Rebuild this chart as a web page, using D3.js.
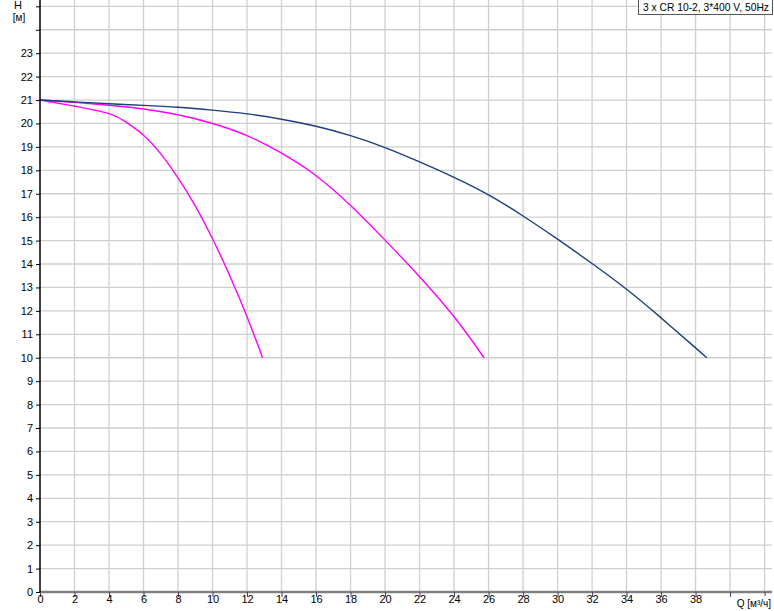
<!DOCTYPE html>
<html><head><meta charset="utf-8">
<script src="https://cdn.jsdelivr.net/npm/d3@7"></script>
<style>
body{margin:0;background:#fff;}
svg{display:block;font-family:"Liberation Sans",Arial,sans-serif;}
</style></head>
<body>
<svg id="c" width="774" height="611"></svg>
<script>
// ---- data ----
const legendText = "3 x CR 10-2, 3*400 V, 50Hz";
const yLabel1 = "H", yLabel2 = "[м]";
const xLabel = "Q [м³/ч]";
const xTicks = d3.range(0, 43, 2);
const xTickLabels = d3.range(0, 39, 2);
const yTicks = d3.range(0, 26, 1);
const yTickLabels = d3.range(0, 24, 1);

const qNavy = [0,2,4,6,8,10,12,14,16,18,20,22,24,26,28,30,32,34,36,38,38.65];
const hNavy = [21,20.92,20.84,20.77,20.69,20.57,20.41,20.18,19.88,19.48,18.97,18.36,17.7,16.95,16.05,15.06,14.02,12.92,11.7,10.42,10];

const qMid = [0,2,4,6,8,10,12,14,16,18,20,22,24,25.74];
const hMid = [21,20.9,20.78,20.62,20.37,20.0,19.48,18.73,17.77,16.5,15.02,13.46,11.75,10];

const qLow = [0,2,4,5,6,7,8,9,10,11,12,12.9];
const hLow = [21,20.74,20.42,20.05,19.5,18.7,17.68,16.48,15.08,13.5,11.75,10];

// ---- layout ----
const svg = d3.select("#c");
const x0 = 40, xRight = 772, y0 = 592, yTop = 0;
const x = d3.scaleLinear().domain([0, 42.43]).range([x0, xRight]);
const y = d3.scaleLinear().domain([0, 25.27]).range([y0, yTop]);

// grid
const g = svg.append("g");
g.selectAll("line.vx").data(xTicks.filter(d=>d>0)).enter().append("line")
  .attr("x1", d=>x(d)).attr("x2", d=>x(d)).attr("y1", yTop).attr("y2", y0)
  .attr("stroke", "#cfcfcf").attr("stroke-width", 1.3);
g.selectAll("line.hy").data(yTicks.filter(d=>d>0)).enter().append("line")
  .attr("x1", x0).attr("x2", xRight).attr("y1", d=>y(d)).attr("y2", d=>y(d))
  .attr("stroke", "#cfcfcf").attr("stroke-width", 1.3);

// curves
const line = d3.line().x(d=>x(d[0])).y(d=>y(d[1])).curve(d3.curveNatural);
const zip = (a,b)=>a.map((v,i)=>[v,b[i]]);
svg.append("path").datum(zip(qLow,hLow)).attr("d", line)
  .attr("fill","none").attr("stroke","#ff00ff").attr("stroke-width",1.4);
svg.append("path").datum(zip(qMid,hMid)).attr("d", line)
  .attr("fill","none").attr("stroke","#ff00ff").attr("stroke-width",1.4);
svg.append("path").datum(zip(qNavy,hNavy)).attr("d", line)
  .attr("fill","none").attr("stroke","#1b3f7c").attr("stroke-width",1.4);

// x axis
const xa = svg.append("g").attr("transform", `translate(0,${y0})`)
  .call(d3.axisBottom(x).tickValues(xTicks).tickSize(5)
    .tickFormat(d => xTickLabels.includes(d) ? d : ""));
xa.select(".domain").attr("d", `M${x0},0H${xRight}`).attr("stroke","#808080").attr("stroke-width",2.5);
xa.selectAll(".tick line").attr("stroke","#4b3d66").attr("stroke-width",1);
xa.selectAll(".tick text").attr("font-size",11).attr("fill","#000").attr("dy","0.55em").attr("y",5);

// y axis
const ya = svg.append("g").attr("transform", `translate(${x0},0)`)
  .call(d3.axisLeft(y).tickValues(yTicks).tickSize(4)
    .tickFormat(d => yTickLabels.includes(d) ? d : ""));
ya.select(".domain").attr("d", `M0,${yTop}V${y0}`).attr("stroke","#000").attr("stroke-width",1.5);
ya.selectAll(".tick line").attr("stroke","#000");
ya.selectAll(".tick text").attr("font-size",11).attr("fill","#000").attr("x",-7);

// axis titles
svg.append("text").attr("x",18).attr("y",9).attr("text-anchor","middle").attr("font-size",11).text(yLabel1);
svg.append("text").attr("x",19).attr("y",21).attr("text-anchor","middle").attr("font-size",10).text(yLabel2);
svg.append("rect").attr("x",733).attr("y",596).attr("width",41).attr("height",14).attr("fill","#fff");
svg.append("text").attr("x",771).attr("y",607).attr("text-anchor","end").attr("font-size",10).text(xLabel);

// legend
const lg = svg.append("g");
lg.append("rect").attr("x",638.5).attr("y",-0.5).attr("width",134).attr("height",15)
  .attr("fill","#fff").attr("stroke","#555").attr("stroke-width",1);
lg.append("text").attr("x",769).attr("y",11).attr("text-anchor","end").attr("font-size",10.3).text(legendText);
</script>
</body></html>
